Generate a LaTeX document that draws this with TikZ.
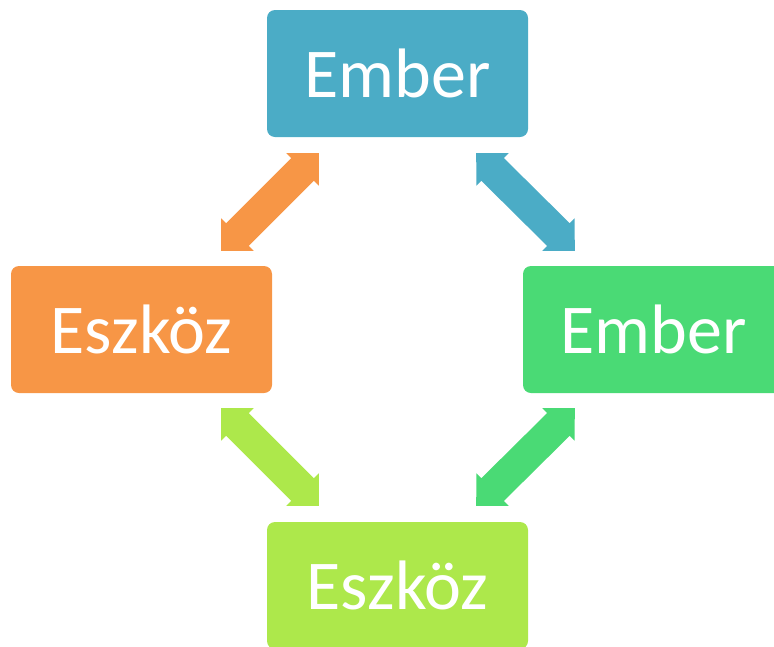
\documentclass[tikz,border=0pt]{standalone}
\usepackage{fontspec}
\setmainfont{Carlito}
\usetikzlibrary{calc}
\definecolor{cBlue}{HTML}{4BACC6}
\definecolor{cOrange}{HTML}{F79646}
\definecolor{cGreen}{HTML}{4ADA75}
\definecolor{cLime}{HTML}{ADE84B}
% double-headed block arrow between two named tip coordinates
\newcommand{\dblarrow}[3]{%
  \fill[#1] (#2)
    -- ($(#2)!23pt!(#3)!23pt!90:(#3)$)
    -- ($(#2)!23pt!(#3)!16pt!90:(#3)$)
    -- ($(#3)!23pt!(#2)!16pt!-90:(#2)$)
    -- ($(#3)!23pt!(#2)!23pt!-90:(#2)$)
    -- (#3)
    -- ($(#3)!23pt!(#2)!23pt!90:(#2)$)
    -- ($(#3)!23pt!(#2)!16pt!90:(#2)$)
    -- ($(#2)!23pt!(#3)!16pt!-90:(#3)$)
    -- ($(#2)!23pt!(#3)!23pt!-90:(#3)$)
    -- cycle;}
\tikzset{
  card/.style={fill=#1, rounded corners=8pt, minimum width=261pt,
    minimum height=127pt, inner sep=0pt, text=white,
    font=\fontsize{70}{84}\selectfont},
}
\begin{document}
\begin{tikzpicture}[x=1pt,y=-1pt]
\useasboundingbox (0,0) rectangle (774,646);
\clip (0,0) rectangle (774,646);
\node[card=cBlue]   (top)    at (397.5,73.5)  {Ember};
\node[card=cOrange] (left)   at (141.5,329.5) {Eszköz};
\node[card=cGreen]  (right)  at (653.5,329.5) {Ember};
\node[card=cLime]   (bottom) at (397.5,585.5) {Eszköz};
% arrow tips
\coordinate (o1) at ($(top.south west)+(52,16)$);
\coordinate (o2) at ($(left.north east)+(-51,-15)$);
\coordinate (b1) at ($(top.south east)+(-52,16)$);
\coordinate (b2) at ($(right.north west)+(52,-15)$);
\coordinate (l1) at ($(left.south east)+(-51,15)$);
\coordinate (l2) at ($(bottom.north west)+(52,-16)$);
\coordinate (g1) at ($(right.south west)+(52,15)$);
\coordinate (g2) at ($(bottom.north east)+(-52,-16)$);
\dblarrow{cOrange}{o1}{o2}
\dblarrow{cBlue}{b1}{b2}
\dblarrow{cLime}{l1}{l2}
\dblarrow{cGreen}{g1}{g2}
\end{tikzpicture}
\end{document}
